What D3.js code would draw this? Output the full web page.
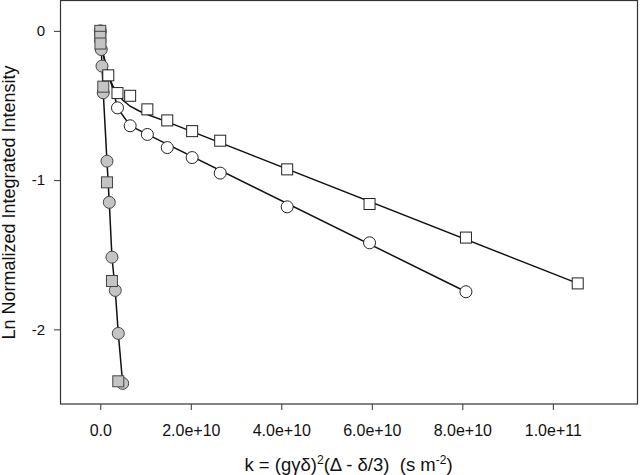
<!DOCTYPE html>
<html>
<head>
<meta charset="utf-8">
<script src="https://cdn.jsdelivr.net/npm/d3@7"></script>
<style>
  html, body { margin: 0; padding: 0; background: #fff; }
  svg { display: block; font-family: "Liberation Sans", Arial, sans-serif; }
</style>
</head>
<body>
<svg id="chart" width="640" height="475"></svg>
<script>
// ---- data (k in s m^-2, y = ln normalized integrated intensity) ----
const openSquareK = [0.177e10, 0.38e10, 0.66e10, 1.04e10, 1.48e10, 2.03e10, 2.65e10, 4.13e10, 5.95e10, 8.08e10, 10.55e10];
const openSquareY = [-0.298, -0.417, -0.435, -0.526, -0.600, -0.672, -0.736, -0.928, -1.16, -1.385, -1.692];

const openCircleK = [0.38e10, 0.66e10, 1.04e10, 1.48e10, 2.03e10, 2.65e10, 4.13e10, 5.95e10, 8.08e10];
const openCircleY = [-0.516, -0.636, -0.694, -0.782, -0.849, -0.953, -1.179, -1.420, -1.748];

const grayCircleK = [0, 0.022e10, 0.038e10, 0.066e10, 0.148e10, 0.199e10, 0.258e10, 0.331e10, 0.398e10, 0.495e10];
const grayCircleY = [0, -0.125, -0.236, -0.415, -0.873, -1.149, -1.516, -1.739, -2.027, -2.362];

const graySquareK = [0, 0, 0.004e10, 0.066e10, 0.148e10, 0.258e10, 0.398e10];
const graySquareY = [0, -0.04, -0.085, -0.374, -1.015, -1.676, -2.348];

// fitted curves
const squareFitK = [0, 0.05e10, 0.177e10, 0.28e10, 0.38e10, 0.5e10, 0.66e10, 0.85e10, 1.04e10, 1.48e10, 10.55e10];
const squareFitY = [0, -0.14, -0.298, -0.37, -0.42, -0.465, -0.505, -0.535, -0.56, -0.61, -1.692];
const circleFitK = [0, 0.05e10, 0.177e10, 0.28e10, 0.38e10, 0.66e10, 1.04e10, 8.08e10];
const circleFitY = [0, -0.14, -0.29, -0.39, -0.516, -0.636, -0.694, -1.748];

const xTickValues = [0, 2e10, 4e10, 6e10, 8e10, 1e11];
const xTickLabels = ["0.0", "2.0e+10", "4.0e+10", "6.0e+10", "8.0e+10", "1.0e+11"];
const yTickValues = [0, -1, -2];
const yTickLabels = ["0", "-1", "-2"];

// ---- layout ----
const svg = d3.select("#chart");
const mLeft = 60, mRight = 637, mTop = 1, mBottom = 404;

const x = d3.scaleLinear().domain([-0.89e10, 1.186e11]).range([mLeft, mRight]);
const y = d3.scaleLinear().domain([0.2, -2.5]).range([mTop, mBottom]);

const zip = (a, b) => a.map((v, i) => [v, b[i]]);

// axes
const xAxis = d3.axisBottom(x).tickValues(xTickValues).tickSize(6).tickPadding(15)
  .tickFormat((d, i) => xTickLabels[i]);
const yAxis = d3.axisLeft(y).tickValues(yTickValues).tickSize(6).tickPadding(9)
  .tickFormat((d, i) => yTickLabels[i]);

const gx = svg.append("g").attr("transform", `translate(0,${mBottom})`).call(xAxis);
const gy = svg.append("g").attr("transform", `translate(${mLeft},0)`).call(yAxis);
[gx, gy].forEach(g => {
  g.select(".domain").remove();
  g.selectAll(".tick line").attr("stroke", "#333");
  g.selectAll(".tick text").attr("fill", "#111").attr("font-family", "Liberation Sans, Arial, sans-serif");
});
gx.selectAll(".tick text").attr("font-size", 16);
gy.selectAll(".tick text").attr("font-size", 15);

// frame
svg.append("rect")
  .attr("x", mLeft + 0.5).attr("y", mTop - 0.5)
  .attr("width", mRight - mLeft).attr("height", mBottom - mTop + 0.5)
  .attr("fill", "none").attr("stroke", "#333").attr("stroke-width", 1.2);

// lines
const line = d3.line().x(d => x(d[0])).y(d => y(d[1]));
const plot = svg.append("g");
[zip(squareFitK, squareFitY), zip(circleFitK, circleFitY), zip(grayCircleK, grayCircleY)].forEach(pts => {
  plot.append("path").attr("d", line(pts))
    .attr("fill", "none").attr("stroke", "#111").attr("stroke-width", 1.5);
});

// markers
const sq = 11, rad = 6;
function circles(pts, fill, stroke) {
  plot.append("g").selectAll("circle").data(pts).join("circle")
    .attr("cx", d => x(d[0])).attr("cy", d => y(d[1])).attr("r", rad)
    .attr("fill", fill).attr("stroke", stroke).attr("stroke-width", 1);
}
function squares(pts, fill, stroke) {
  plot.append("g").selectAll("rect").data(pts).join("rect")
    .attr("x", d => x(d[0]) - sq / 2).attr("y", d => y(d[1]) - sq / 2)
    .attr("width", sq).attr("height", sq)
    .attr("fill", fill).attr("stroke", stroke).attr("stroke-width", 1);
}
circles(zip(grayCircleK, grayCircleY), "#c4c4c4", "#444");
squares(zip(graySquareK, graySquareY), "#c4c4c4", "#444");
circles(zip(openCircleK, openCircleY), "#fff", "#222");
squares(zip(openSquareK, openSquareY), "#fff", "#222");

// axis titles
const xt = svg.append("text")
  .attr("x", (mLeft + mRight) / 2).attr("y", 471)
  .attr("text-anchor", "middle").attr("font-size", 18.5).attr("fill", "#111");
xt.append("tspan").text("k = (gγδ)");
xt.append("tspan").attr("font-size", 12).attr("dy", -7).text("2");
xt.append("tspan").attr("dy", 7).text("(Δ - δ/3) \u00a0(s m");
xt.append("tspan").attr("font-size", 12).attr("dy", -7).text("-2");
xt.append("tspan").attr("dy", 7).text(")");

svg.append("text")
  .attr("transform", `translate(15,${(mTop + mBottom) / 2}) rotate(-90)`)
  .attr("text-anchor", "middle").attr("font-size", 18).attr("fill", "#111")
  .text("Ln Normalized Integrated Intensity");
</script>
</body>
</html>
